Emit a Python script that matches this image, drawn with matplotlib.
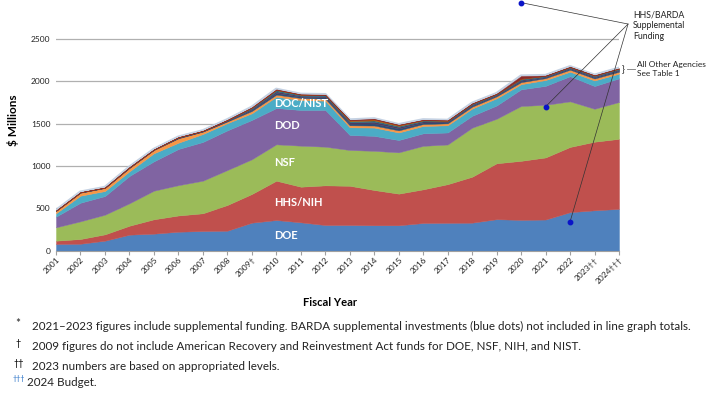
import matplotlib.pyplot as plt
import numpy as np

plt.rcParams['font.family'] = ['Lato', 'DejaVu Sans']

years = ["2001", "2002", "2003", "2004", "2005", "2006", "2007", "2008",
         "2009\u2020", "2010", "2011", "2012", "2013", "2014", "2015", "2016",
         "2017", "2018", "2019", "2020", "2021", "2022", "2023\u2020\u2020",
         "2024\u2020\u2020\u2020"]

# $ millions per agency
doe = [77, 80, 116, 187, 199, 222, 230, 234, 329, 360, 333, 301, 301, 298, 298, 325,
       327, 329, 370, 362, 366, 453, 475, 492]
nih = [39, 56, 75, 106, 170, 192, 210, 304, 339, 465, 421, 469, 464, 417, 374, 398,
       457, 543, 661, 698, 734, 771, 811, 828]
nsf = [158, 209, 232, 265, 338, 358, 385, 413, 410, 430, 485, 457, 423, 463, 488, 514,
       469, 580, 526, 648, 622, 539, 389, 435]
dod = [126, 220, 221, 323, 347, 428, 458, 469, 465, 429, 422, 434, 177, 177, 146, 148,
       142, 140, 157, 197, 224, 297, 269, 280]
nist = [40, 83, 59, 55, 95, 74, 94, 85, 79, 134, 118, 110, 91, 98, 89, 87,
        85, 86, 85, 61, 69, 53, 66, 55]
agency6 = [27, 35, 36, 39, 39, 52, 28, 20, 27, 24, 24, 23, 24, 24, 25, 23,
           23, 22, 23, 24, 22, 24, 23, 23]
# all other agencies (thin bands on top)
other1 = [2, 3, 2, 4, 3, 5, 4, 7, 15, 20, 15, 16, 20, 25, 22, 18, 13, 15, 12, 15, 12, 13, 14, 15]
other2 = [1, 2, 2, 3, 2, 4, 3, 6, 12, 18, 12, 14, 16, 20, 18, 14, 10, 11, 9, 12, 9, 10, 11, 11]
other3 = [1, 1, 1, 2, 1, 3, 2, 4, 10, 15, 10, 11, 12, 15, 12, 10, 7, 8, 6, 10, 6, 7, 8, 9]
other4 = [0, 0, 0, 0, 0, 1, 0, 1, 3, 5, 3, 4, 10, 14, 11, 5, 3, 3, 2, 4, 2, 2, 3, 3]
other5 = [1, 1, 1, 1, 1, 1, 1, 2, 4, 5, 3, 3, 5, 5, 4, 3, 2, 3, 3, 31, 2, 3, 3, 3]

# HHS/BARDA supplemental (blue dots, not stacked)
barda_idx = [19, 20, 21]
barda = [2930, 1700, 340]

layers = [doe, nih, nsf, dod, nist, agency6, other1, other2, other3, other4, other5]
colors = ['#4F81BD', '#C0504D', '#9BBB59', '#8064A2', '#4BACC6', '#F79646',
          '#2C4D75', '#4D3B62', '#276A7C', '#B65708', '#8B2A28']

fig = plt.figure(figsize=(7.09, 4.01), dpi=100)
W, H = 709.0, 401.0
ax = fig.add_axes([56 / W, 1 - 250.5 / H, 563 / W, 250.5 / H])

x = np.arange(len(years))
total = np.sum(np.array(layers), axis=0)

# soft halo along the top edge
ax.plot(x, total, color='#BFCDE0', lw=2.4, alpha=0.9, zorder=0.9)
polys = ax.stackplot(x, *layers, colors=colors, zorder=1)
for p, c in zip(polys, colors):
    p.set_edgecolor(c)
    p.set_linewidth(0.3)

ax.plot(barda_idx, barda, 'o', color='#0A14C8', ms=3.2, zorder=5, clip_on=False)

ax.set_xlim(0, len(years) - 1)
ax.set_ylim(0, 2961)
ax.set_yticks([0, 500, 1000, 1500, 2000, 2500])
ax.tick_params(axis='y', length=0, labelsize=6, pad=4, labelcolor='#222222')
ax.set_xticks(x)
ax.set_xticklabels(years, rotation=45, ha='right', rotation_mode='anchor', fontsize=6)
ax.tick_params(axis='x', length=3, color='#A0A0A0', pad=1, labelcolor='#222222')
ax.yaxis.grid(True, color='#B0B0B0', lw=0.9)
ax.set_axisbelow(True)
for s in ['top', 'right', 'left']:
    ax.spines[s].set_visible(False)
ax.spines['bottom'].set_color('#A0A0A0')

# agency labels inside the areas
lab = dict(color='white', fontsize=8, fontweight='bold', va='center', ha='left')
ax.text(8.9, 183, 'DOE', **lab)
ax.text(8.9, 573, 'HHS/NIH', **lab)
ax.text(8.9, 1046, 'NSF', **lab)
ax.text(8.9, 1472, 'DOD', **lab)
ax.text(8.9, 1743, 'DOC/NIST', **lab)

# BARDA callout
ax.text(23.57, 2840, 'HHS/BARDA\nSupplemental\nFunding', fontsize=6.3, va='top',
        ha='left', linespacing=1.25, color='#222222', clip_on=False)
for i, v in zip(barda_idx, barda):
    ax.annotate('', xy=(i, v), xytext=(23.37, 2677), annotation_clip=False,
                arrowprops=dict(arrowstyle='-', color='#333333', lw=0.5,
                                shrinkA=0, shrinkB=0))

ax.text(23.1, 2140, '}', fontsize=7, va='center', ha='left', color='#222222', clip_on=False)
ax.plot([23.33, 23.66], [2140, 2140], color='#777777', lw=0.6, clip_on=False)
ax.text(23.75, 2148, 'All Other Agencies\nSee Table 1', fontsize=6, va='center',
        ha='left', linespacing=1.3, color='#222222', clip_on=False)

fig.text(13 / W, 1 - 120 / H, '$ Millions', rotation=90, fontsize=8.5,
         fontweight='bold', ha='center', va='center')
fig.text(330 / W, 1 - 303 / H, 'Fiscal Year', fontsize=8, fontweight='bold',
         ha='center', va='center')

# footnotes
fn = dict(fontsize=8.4, va='center', ha='left', color='#222222')
fig.text(15 / W, 1 - 324 / H, '*', **fn)
fig.text(32 / W, 1 - 326 / H, '2021\u20132023 figures include supplemental funding. BARDA '
         'supplemental investments (blue dots) not included in line graph totals.', **fn)
fig.text(15 / W, 1 - 344 / H, '\u2020', fontsize=6.5, va='center', ha='left')
fig.text(32 / W, 1 - 346 / H, '2009 figures do not include American Recovery and '
         'Reinvestment Act funds for DOE, NSF, NIH, and NIST.', **fn)
fig.text(13 / W, 1 - 364 / H, '\u2020\u2020', fontsize=6.5, va='center', ha='left')
fig.text(32 / W, 1 - 366 / H, '2023 numbers are based on appropriated levels.', **fn)
fig.text(13 / W, 1 - 379 / H, '\u2020\u2020\u2020', fontsize=5, va='center', ha='left',
         color='#2E75C8')
fig.text(27 / W, 1 - 382 / H, '2024 Budget.', **fn)

fig.savefig('out.png', dpi=100)
plt.close()
